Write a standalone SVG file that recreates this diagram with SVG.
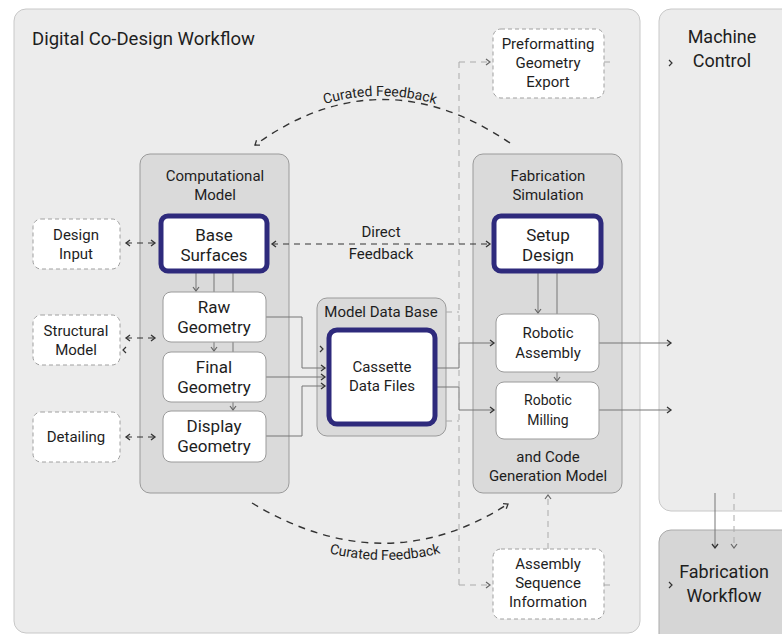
<svg xmlns="http://www.w3.org/2000/svg" width="782" height="634" viewBox="0 0 782 634">
<style>
text{font-family:Roboto,"Liberation Sans",sans-serif;fill:#1e1e1e;text-anchor:middle}
.t{font-size:15px}
.big{font-size:17px}
.panel{fill:#ececec;stroke:#c8c8c8;stroke-width:1}
.grp{fill:#dadada;stroke:#9a9a9a;stroke-width:1}
.box{fill:#fff;stroke:#9a9a9a;stroke-width:1}
.key{fill:#fff;stroke:#2e2a7c;stroke-width:5}
.ext{fill:#fff;stroke:#a0a0a0;stroke-width:1;stroke-dasharray:4,3}
.ln{fill:none;stroke:#777;stroke-width:1}
.gd{fill:none;stroke:#aaa;stroke-width:1;stroke-dasharray:6,5}
.fb{fill:none;stroke:#333;stroke-width:1.4;stroke-dasharray:7,6}
.bd{fill:none;stroke:#333;stroke-width:1.2;stroke-dasharray:6,5}
.chev{fill:none;stroke:#333;stroke-width:1.2}
</style>
<defs>
<marker id="a" viewBox="0 0 8 8" refX="6" refY="4" markerWidth="8" markerHeight="8" markerUnits="userSpaceOnUse" orient="auto-start-reverse">
<path d="M2,1 L6,4 L2,7" fill="none" stroke="#333" stroke-width="1.3" stroke-dasharray="none"/>
</marker>
<marker id="g" viewBox="0 0 8 8" refX="6" refY="4" markerWidth="8" markerHeight="8" markerUnits="userSpaceOnUse" orient="auto-start-reverse">
<path d="M2,1 L6,4 L2,7" fill="none" stroke="#666" stroke-width="1.2" stroke-dasharray="none"/>
</marker>
</defs>

<g id="co-design-workflow">
<rect class="panel" x="14" y="9" width="626" height="624" rx="12"/>
<text x="32" y="45" style="font-size:18.5px;text-anchor:start">Digital Co-Design Workflow</text>
</g>
<g id="machine-control">
<rect class="panel" x="659" y="9" width="140" height="502" rx="12"/>
<text style="font-size:18px" x="722" y="43">Machine</text>
<text style="font-size:18px" x="722" y="67">Control</text>
<path class="chev" d="M669,60 L672,63 L669,66"/>
</g>
<g id="fabrication-workflow">
<rect x="659" y="530" width="140" height="120" rx="12" fill="#d6d6d6" stroke="#aaa"/>
<text style="font-size:18px" x="724" y="578">Fabrication</text>
<text style="font-size:18px" x="724" y="602">Workflow</text>
<path class="chev" d="M669,582 L672,585 L669,588"/>
</g>

<g id="computational-model">
<rect class="grp" x="140" y="154" width="149" height="339" rx="10"/>
<text class="t" x="215" y="181">Computational</text>
<text class="t" x="215" y="200">Model</text>
</g>
<g id="fabrication-simulation">
<rect class="grp" x="473" y="154" width="149" height="339" rx="10"/>
<text class="t" x="548" y="181">Fabrication</text>
<text class="t" x="548" y="200">Simulation</text>
<text class="t" x="548" y="462">and Code</text>
<text class="t" x="548" y="481">Generation Model</text>
</g>
<g id="model-data-base">
<rect class="grp" x="317" y="298" width="129" height="138" rx="10"/>
<text class="t" x="381" y="317">Model Data Base</text>
</g>

<g id="connectors">
<path class="ln" d="M196,273 V291" marker-end="url(#g)"/>
<path class="ln" d="M214,273 V351" marker-end="url(#g)"/>
<path class="ln" d="M233,273 V410" marker-end="url(#g)"/>
<path class="ln" d="M266,317 H302 V368 H325" marker-end="url(#a)"/>
<path class="ln" d="M266,377 H325" marker-end="url(#a)"/>
<path class="ln" d="M266,436 H302 V386 H325" marker-end="url(#a)"/>
<path class="chev" d="M320,346 L323,349 L320,352"/>
<path class="ln" d="M437,368 H459 V343 H494" marker-end="url(#a)"/>
<path class="ln" d="M437,387 H459 V410 H494" marker-end="url(#a)"/>
<path class="ln" d="M538,273 V313" marker-end="url(#g)"/>
<path class="ln" d="M557,273 V381" marker-end="url(#g)"/>
<path class="ln" d="M599,343 H671" marker-end="url(#a)"/>
<path class="ln" d="M599,410 H671" marker-end="url(#a)"/>
<path class="ln" d="M715,493 V548" marker-end="url(#a)"/>
<path class="gd" d="M734,493 V548" marker-end="url(#g)"/>
<path class="gd" d="M446,312 H459 M446,421 H459 M459,62 V585"/>
<path class="gd" d="M459,62 H490" marker-end="url(#g)"/>
<path class="gd" d="M459,585 H490" marker-end="url(#g)"/>
<path class="gd" d="M604,62 H612 M604,585 H612"/>
<path class="gd" d="M548,549 V495" marker-end="url(#g)"/>
<path class="bd" d="M126,243 H155" marker-start="url(#a)" marker-end="url(#a)"/>
<path class="bd" d="M126,338 H155" marker-start="url(#a)" marker-end="url(#a)"/>
<path class="chev" d="M126,347 L123,350 L126,353"/>
<path class="bd" d="M126,437 H155" marker-start="url(#a)" marker-end="url(#a)"/>
<path class="bd" d="M272,244 H490" marker-start="url(#a)" marker-end="url(#a)"/>
<text class="t" x="381" y="237">Direct</text>
<text class="t" x="381" y="259">Feedback</text>
<path class="fb" d="M510,143 Q380,55 255,145" marker-end="url(#a)"/>
<path id="tp1" d="M250,140 Q380,52 510,140" fill="none"/>
<text style="font-size:14px"><textPath href="#tp1" startOffset="50%">Curated Feedback</textPath></text>
<path class="fb" d="M252,503 Q385,583 508,504" marker-end="url(#a)"/>
<path id="tp2" d="M250,520 Q385,600 520,520" fill="none"/>
<text style="font-size:14px"><textPath href="#tp2" startOffset="50%">Curated Feedback</textPath></text>
</g>

<g id="design-input">
<rect class="ext" x="33" y="219" width="87" height="50" rx="8"/>
<text class="t" x="76" y="240">Design</text>
<text class="t" x="76" y="259">Input</text>
</g>
<g id="structural-model">
<rect class="ext" x="33" y="315" width="87" height="50" rx="8"/>
<text class="t" x="76" y="336">Structural</text>
<text class="t" x="76" y="355">Model</text>
</g>
<g id="detailing">
<rect class="ext" x="33" y="412" width="87" height="50" rx="8"/>
<text class="t" x="76" y="442">Detailing</text>
</g>

<g id="base-surfaces">
<rect class="key" x="161" y="216" width="106" height="55" rx="7"/>
<text class="big" x="214" y="241">Base</text>
<text class="big" x="214" y="261">Surfaces</text>
</g>
<g id="raw-geometry">
<rect class="box" x="163" y="292" width="103" height="50" rx="8"/>
<text class="big" x="214" y="313">Raw</text>
<text class="big" x="214" y="333">Geometry</text>
</g>
<g id="final-geometry">
<rect class="box" x="163" y="352" width="103" height="50" rx="8"/>
<text class="big" x="214" y="373">Final</text>
<text class="big" x="214" y="393">Geometry</text>
</g>
<g id="display-geometry">
<rect class="box" x="163" y="411" width="103" height="51" rx="8"/>
<text class="big" x="214" y="432">Display</text>
<text class="big" x="214" y="452">Geometry</text>
</g>

<g id="cassette-data-files">
<rect class="key" x="329" y="330" width="106" height="94" rx="8"/>
<text class="t" x="382" y="372">Cassette</text>
<text class="t" x="382" y="391">Data Files</text>
</g>

<g id="setup-design">
<rect class="key" x="494" y="216" width="107" height="55" rx="7"/>
<text class="big" x="548" y="241">Setup</text>
<text class="big" x="548" y="261">Design</text>
</g>
<g id="robotic-assembly">
<rect class="box" x="496" y="314" width="103" height="58" rx="8"/>
<text class="t" x="548" y="338">Robotic</text>
<text class="t" x="548" y="358">Assembly</text>
</g>
<g id="robotic-milling">
<rect class="box" x="496" y="382" width="103" height="57" rx="8"/>
<text style="font-size:14px" x="548" y="405">Robotic</text>
<text style="font-size:14px" x="548" y="425">Milling</text>
</g>

<g id="preformatting-export">
<rect class="ext" x="493" y="29" width="111" height="69" rx="8"/>
<text class="t" x="548" y="49">Preformatting</text>
<text class="t" x="548" y="68">Geometry</text>
<text class="t" x="548" y="87">Export</text>
</g>
<g id="assembly-sequence">
<rect class="ext" x="493" y="549" width="111" height="70" rx="8"/>
<text class="t" x="548" y="569">Assembly</text>
<text class="t" x="548" y="588">Sequence</text>
<text class="t" x="548" y="607">Information</text>
</g>
</svg>
